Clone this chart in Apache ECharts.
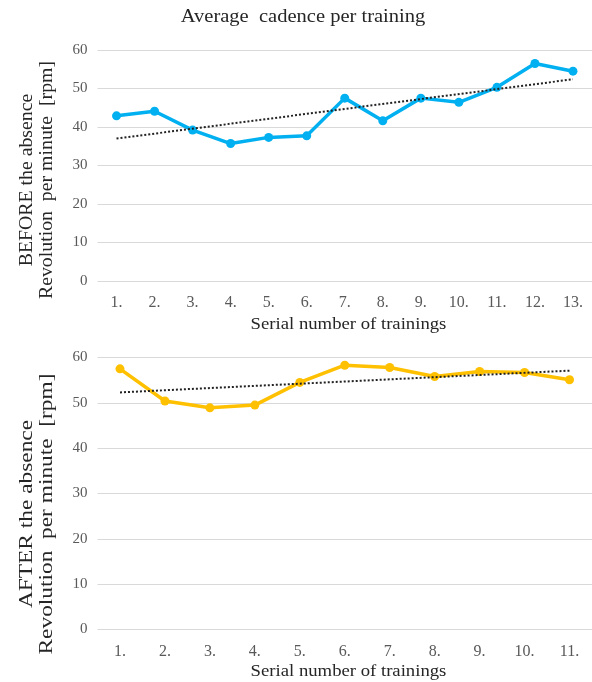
<!DOCTYPE html>
<html><head><meta charset="utf-8">
<script src="https://cdn.jsdelivr.net/npm/echarts@6/dist/echarts.min.js"></script>
<style>html,body{margin:0;padding:0;background:#fff}#c{width:592px;height:682px}</style>
</head><body><div id="c"></div>
<script>
// data
var titleText = "Average  cadence per training";
var catsBefore = ["1.","2.","3.","4.","5.","6.","7.","8.","9.","10.","11.","12.","13."];
var valsBefore = [42.9, 44.1, 39.2, 35.7, 37.3, 37.7, 47.5, 41.6, 47.5, 46.4, 50.3, 56.5, 54.5];
var trendBefore = [37.0, 52.4]; // trendline end values (first and last category)
var catsAfter = ["1.","2.","3.","4.","5.","6.","7.","8.","9.","10.","11."];
var valsAfter = [57.5, 50.4, 48.9, 49.5, 54.5, 58.3, 57.8, 55.8, 56.9, 56.7, 55.1];
var trendAfter = [52.3, 57.1];
var yTicks = [0, 10, 20, 30, 40, 50, 60];
var xName = "Serial number of trainings";
var yNameBefore = ["BEFORE the absence", "Revolution  per minute  [rpm]"];
var yNameAfter = ["AFTER the absence", "Revolution  per minute  [rpm]"];

var serif = "'Liberation Serif', 'DejaVu Serif', serif";
var gray = "#595959";
var dark = "#262626";

function xAxisCfg(cats, idx) {
  return {
    type: 'category', gridIndex: idx, data: cats, boundaryGap: true,
    axisLine: {show: false}, axisTick: {show: false},
    axisLabel: {fontFamily: serif, fontSize: 16, color: gray, margin: 14}
  };
}
function yAxisCfg(idx) {
  return {
    type: 'value', gridIndex: idx, min: yTicks[0], max: yTicks[yTicks.length - 1], interval: 10,
    axisLine: {show: false}, axisTick: {show: false},
    axisLabel: {fontFamily: serif, fontSize: 15, color: gray, margin: 10},
    splitLine: {lineStyle: {color: '#d9d9d9', width: 1}}
  };
}
function trendData(cats, t) {
  return [[cats[0], t[0]], [cats[cats.length - 1], t[1]]];
}
function label(text, x, y, size, sx, rot) {
  return {type: 'text', x: x, y: y, rotation: rot || 0, scaleX: sx,
    style: {text: text, fontFamily: serif, fontSize: size, lineHeight: 20,
            fill: dark, align: 'center', verticalAlign: 'middle'}};
}

var chart = echarts.init(document.getElementById('c'), null, {renderer: 'canvas'});
chart.setOption({
  animation: false,
  backgroundColor: '#fff',
  grid: [
    {left: 97.5, right: -6, top: 50, height: 231},
    {left: 97.5, right: -6, top: 357.5, height: 272}
  ],
  xAxis: [xAxisCfg(catsBefore, 0), xAxisCfg(catsAfter, 1)],
  yAxis: [yAxisCfg(0), yAxisCfg(1)],
  graphic: [
    label(titleText, 303, 17, 19, 1.08, 0),
    label(xName, 348.5, 325, 17, 1.1, 0),
    label(xName, 348.5, 672, 17, 1.1, 0),
    label(yNameBefore.join('\n'), 37, 180, 18, 1.1, Math.PI / 2),
    label(yNameAfter.join('\n'), 37, 514, 19, 1.23, Math.PI / 2)
  ],
  series: [
    {type: 'line', xAxisIndex: 0, yAxisIndex: 0, data: valsBefore,
     lineStyle: {color: '#00B0F0', width: 3.5}, itemStyle: {color: '#00B0F0'},
     symbol: 'circle', symbolSize: 9, z: 2},
    {type: 'line', xAxisIndex: 0, yAxisIndex: 0, data: trendData(catsBefore, trendBefore),
     lineStyle: {color: '#222', width: 2, type: [2, 2]}, symbol: 'none', z: 3},
    {type: 'line', xAxisIndex: 1, yAxisIndex: 1, data: valsAfter,
     lineStyle: {color: '#FFC000', width: 3.5}, itemStyle: {color: '#FFC000'},
     symbol: 'circle', symbolSize: 9, z: 2},
    {type: 'line', xAxisIndex: 1, yAxisIndex: 1, data: trendData(catsAfter, trendAfter),
     lineStyle: {color: '#222', width: 2, type: [2, 2]}, symbol: 'none', z: 3}
  ]
});
</script>
</body></html>
